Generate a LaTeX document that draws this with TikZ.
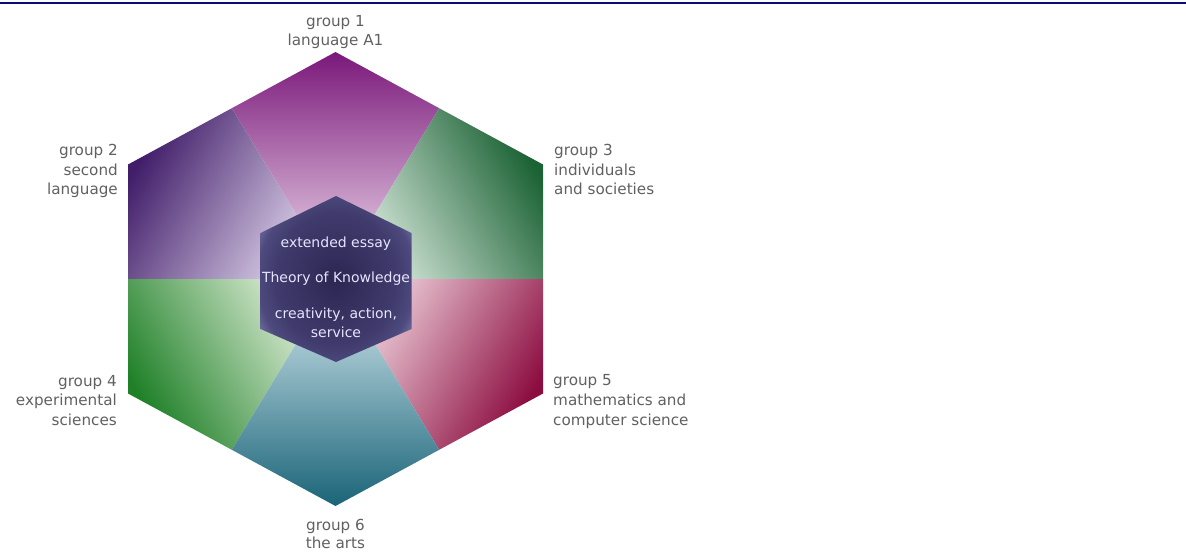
\documentclass[tikz,border=0pt]{standalone}
\usepackage{fontspec}
\setmainfont{DejaVu Sans}
\usetikzlibrary{calc}
\definecolor{inA}{HTML}{2C2652}\definecolor{inB}{HTML}{36315F}\definecolor{inC}{HTML}{403B6C}
\definecolor{inD}{HTML}{4E4A7E}\definecolor{inE}{HTML}{7A78A8}\definecolor{inF}{HTML}{A8A6CC}
\pgfdeclareradialshading{tokglow}{\pgfpoint{0bp}{0bp}}{%
  color(0bp)=(inA); color(10bp)=(inB); color(20bp)=(inC); color(26bp)=(inD); color(31bp)=(inE); color(35.5bp)=(inF); color(50bp)=(inF)}
\begin{document}
\begin{tikzpicture}[x=1pt,y=-1pt,
  lbl/.style={text=black!62, font=\fontsize{15.2}{19}\selectfont, inner sep=0pt},
  lblc/.style={lbl, anchor=base},
  lblr/.style={lbl, anchor=base east},
  lbll/.style={lbl, anchor=base west},
  inner/.style={text=white!90!blue, font=\fontsize{14}{17}\selectfont, inner sep=0pt, anchor=base}]
\useasboundingbox (0,0) rectangle (1186,552);
\fill[white] (0,0) rectangle (1186,552);
\definecolor{navy}{HTML}{0B0B78}
\draw[navy, line width=2.5pt] (0,3) -- (1186,3);
% outer hexagon coordinates
\coordinate (C) at (335.5,279);
\coordinate (V1) at (335.5,52);
\coordinate (V2) at (128,164.5);
\coordinate (V3) at (543,164.5);
\coordinate (V4) at (128,393.5);
\coordinate (V5) at (543,393.5);
\coordinate (V6) at (335.5,506);
\coordinate (M12) at ($(V1)!0.5!(V2)$);
\coordinate (M13) at ($(V1)!0.5!(V3)$);
\coordinate (M24) at ($(V2)!0.5!(V4)$);
\coordinate (M35) at ($(V3)!0.5!(V5)$);
\coordinate (M46) at ($(V4)!0.5!(V6)$);
\coordinate (M56) at ($(V5)!0.5!(V6)$);
\definecolor{gAo}{HTML}{7A187A}\definecolor{gAi}{HTML}{F2E2F0}
\definecolor{gBo}{HTML}{421E6A}\definecolor{gBi}{HTML}{E2D8EE}
\definecolor{gCo}{HTML}{1B6234}\definecolor{gCi}{HTML}{E2F0E6}
\definecolor{gDo}{HTML}{1F8028}\definecolor{gDi}{HTML}{E6F2DE}
\definecolor{gEo}{HTML}{8C0C40}\definecolor{gEi}{HTML}{F4DCE4}
\definecolor{gFo}{HTML}{1A6478}\definecolor{gFi}{HTML}{DCEEF4}
\shade[top color=gAo, bottom color=gAi, shading angle=0] (C) -- (M12) -- (V1) -- (M13) -- cycle;
\shade[top color=gBo, bottom color=gBi, shading angle=60] (C) -- (M24) -- (V2) -- (M12) -- cycle;
\shade[top color=gCo, bottom color=gCi, shading angle=-60] (C) -- (M13) -- (V3) -- (M35) -- cycle;
\shade[top color=gDo, bottom color=gDi, shading angle=120] (C) -- (M46) -- (V4) -- (M24) -- cycle;
\shade[top color=gEo, bottom color=gEi, shading angle=-120] (C) -- (M35) -- (V5) -- (M56) -- cycle;
\shade[top color=gFo, bottom color=gFi, shading angle=180] (C) -- (M56) -- (V6) -- (M46) -- cycle;
% inner hexagon
\shade[shading=tokglow]
  (336,196) -- (411.5,233) -- (411.5,329) -- (336,362) -- (260.5,329) -- (260.5,233) -- cycle;
\node[inner] (ee) at (336,247) {extended essay};
\node[inner] (tok) at (336,282) {Theory of Knowledge};
\node[inner] (cas1) at (336,318) {creativity, action,};
\node[inner] (cas2) at (336,337) {service};
% labels
\node[lblc] (g1a) at (335.5,26) {group 1};
\node[lblc] (g1b) at (335.5,45) {language A1};
\node[lblr] (g2a) at (118,155) {group 2};
\node[lblr] (g2b) at (118,175) {second};
\node[lblr] (g2c) at (118,194) {language};
\node[lbll] (g3a) at (554,155) {group 3};
\node[lbll] (g3b) at (554,175) {individuals};
\node[lbll] (g3c) at (554,194) {and societies};
\node[lblr] (g4a) at (117,386) {group 4};
\node[lblr] (g4b) at (117,405) {experimental};
\node[lblr] (g4c) at (117,425) {sciences};
\node[lbll] (g5a) at (553,385) {group 5};
\node[lbll] (g5b) at (553,405) {mathematics and};
\node[lbll] (g5c) at (553,425) {computer science};
\node[lblc] (g6a) at (335.5,530) {group 6};
\node[lblc] (g6b) at (335.5,548) {the arts};
\end{tikzpicture}
\end{document}
